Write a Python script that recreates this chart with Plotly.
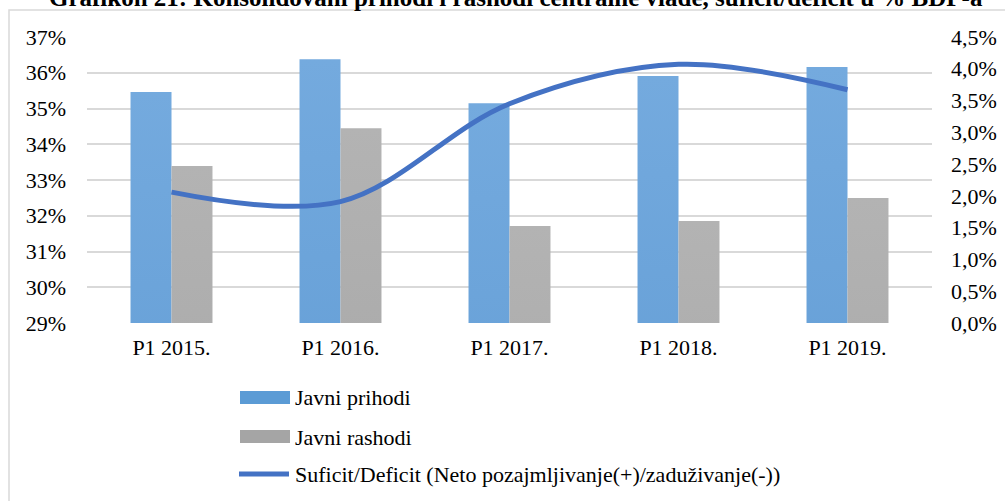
import plotly.graph_objects as go

categories = ["P1 2015.", "P1 2016.", "P1 2017.", "P1 2018.", "P1 2019."]
javni_prihodi = [35.46, 36.38, 35.15, 35.91, 36.16]
javni_rashodi = [33.39, 34.45, 31.71, 31.85, 32.50]
suficit_deficit = [2.06, 1.91, 3.45, 4.07, 3.67]
left_ticks = [29, 30, 31, 32, 33, 34, 35, 36, 37]
left_labels = ["29%", "30%", "31%", "32%", "33%", "34%", "35%", "36%", "37%"]
right_ticks = [0.0, 0.5, 1.0, 1.5, 2.0, 2.5, 3.0, 3.5, 4.0, 4.5]
right_labels = ["0,0%", "0,5%", "1,0%", "1,5%", "2,0%", "2,5%", "3,0%", "3,5%", "4,0%", "4,5%"]

title_text = "Grafikon 21: Konsolidovani prihodi i rashodi centralne vlade, suficit/deficit u % BDP-a"
legend_names = ["Javni prihodi", "Javni rashodi",
                "Suficit/Deficit (Neto pozajmljivanje(+)/zaduživanje(-))"]

FONT = "Liberation Serif"
FS = 22
W, H = 1005, 501
L, R, T, B = 87, 73, 37, 178
PW, PH = W - L - R, H - T - B

def px(x):
    return (x - L) / PW

def py(y):
    return (H - B - y) / PH

BLUE = "#5b9bd5"
GRAY = "#a5a5a5"
LINE = "#4472c4"

fig = go.Figure()
fig.add_trace(go.Bar(x=categories, y=javni_prihodi, name=legend_names[0],
                     marker=dict(color=BLUE, line=dict(width=0)), showlegend=False))
fig.add_trace(go.Bar(x=categories, y=javni_rashodi, name=legend_names[1],
                     marker=dict(color=GRAY, line=dict(width=0)), showlegend=False))
fig.add_trace(go.Scatter(x=categories, y=suficit_deficit, name=legend_names[2],
                         mode="lines", yaxis="y2",
                         line=dict(color=LINE, width=5, shape="spline", smoothing=1),
                         showlegend=False))

shapes = [
    dict(type="rect", xref="paper", yref="paper",
         x0=px(9), x1=px(1100), y0=py(700), y1=py(10),
         line=dict(color="#d9d9d9", width=1.5), fillcolor="rgba(0,0,0,0)", layer="below"),
    dict(type="rect", xref="paper", yref="paper",
         x0=px(240), x1=px(290), y0=py(404), y1=py(391),
         line=dict(width=0), fillcolor=BLUE),
    dict(type="rect", xref="paper", yref="paper",
         x0=px(240), x1=px(290), y0=py(443), y1=py(430),
         line=dict(width=0), fillcolor=GRAY),
    dict(type="line", xref="paper", yref="paper",
         x0=px(239), x1=px(289), y0=py(474), y1=py(474),
         line=dict(color=LINE, width=5)),
]

annotations = [
    dict(text=f"<b>{title_text}</b>", xref="paper", yref="paper",
         x=px(516), y=py(-2), xanchor="center", yanchor="middle",
         showarrow=False, font=dict(family=FONT, size=25, color="#000000")),
]
for name, yy in zip(legend_names, [397, 437, 474]):
    annotations.append(dict(text=name, xref="paper", yref="paper",
                            x=px(293), y=py(yy), xanchor="left", yanchor="middle",
                            showarrow=False,
                            font=dict(family=FONT, size=FS, color="#000000")))

tf = dict(family=FONT, size=FS, color="#000000")
fig.update_layout(
    width=W, height=H,
    margin=dict(l=L, r=R, t=T, b=B, pad=0, autoexpand=False),
    paper_bgcolor="white", plot_bgcolor="white",
    barmode="group", bargap=0.515, bargroupgap=0,
    font=dict(family=FONT, size=FS, color="#000000"),
    showlegend=False,
    xaxis=dict(showgrid=False, showline=False, zeroline=False, ticks="",
               automargin=False, ticklabelstandoff=9, tickfont=tf),
    yaxis=dict(range=[29, 37], tickvals=left_ticks, ticktext=left_labels,
               showgrid=True, gridcolor="#d9d9d9", gridwidth=1.5,
               zeroline=False, showline=False, ticks="", ticklabelstandoff=20,
               automargin=False, tickfont=tf),
    yaxis2=dict(range=[0, 4.5], tickvals=right_ticks, ticktext=right_labels,
                overlaying="y", side="right", showgrid=False, zeroline=False,
                showline=False, ticks="", ticklabelstandoff=18,
                automargin=False, tickfont=tf),
    shapes=shapes,
    annotations=annotations,
)

post_js = """
(function(){
document.body.style.margin = '0';
var gd = document.getElementById('{plot_id}');
var ns = 'http://www.w3.org/2000/svg';
function mk(svg, id, c1, c2){
  if (document.getElementById(id)) return;
  var defs = svg.querySelector('defs');
  if (!defs){ defs = document.createElementNS(ns, 'defs'); svg.insertBefore(defs, svg.firstChild); }
  var g = document.createElementNS(ns, 'linearGradient');
  g.setAttribute('id', id);
  g.setAttribute('x1', '0'); g.setAttribute('y1', '0');
  g.setAttribute('x2', '0'); g.setAttribute('y2', '1');
  [['0%', c1], ['100%', c2]].forEach(function(s){
    var st = document.createElementNS(ns, 'stop');
    st.setAttribute('offset', s[0]);
    st.setAttribute('stop-color', s[1]);
    st.setAttribute('style', 'stop-color:' + s[1] + ';stop-opacity:1');
    g.appendChild(st);
  });
  defs.appendChild(g);
}
function apply(){
  var svg = gd.querySelector('svg.main-svg');
  if (!svg) return;
  mk(svg, 'gradBlueBar', '#74aade', '#3f83c4');
  mk(svg, 'gradGrayBar', '#b3b3b3', '#8a8a8a');
  var tr = gd.querySelectorAll('g.trace.bars');
  if (tr[0]) tr[0].querySelectorAll('path').forEach(function(p){ p.style.setProperty('fill', 'url(#gradBlueBar)', 'important'); });
  if (tr[1]) tr[1].querySelectorAll('path').forEach(function(p){ p.style.setProperty('fill', 'url(#gradGrayBar)', 'important'); });
}
apply();
setTimeout(apply, 30);
setTimeout(apply, 200);
if (gd.on) gd.on('plotly_afterplot', apply);
})();
"""

fig.write_html("out.html", post_script=post_js, config={"displayModeBar": False})
